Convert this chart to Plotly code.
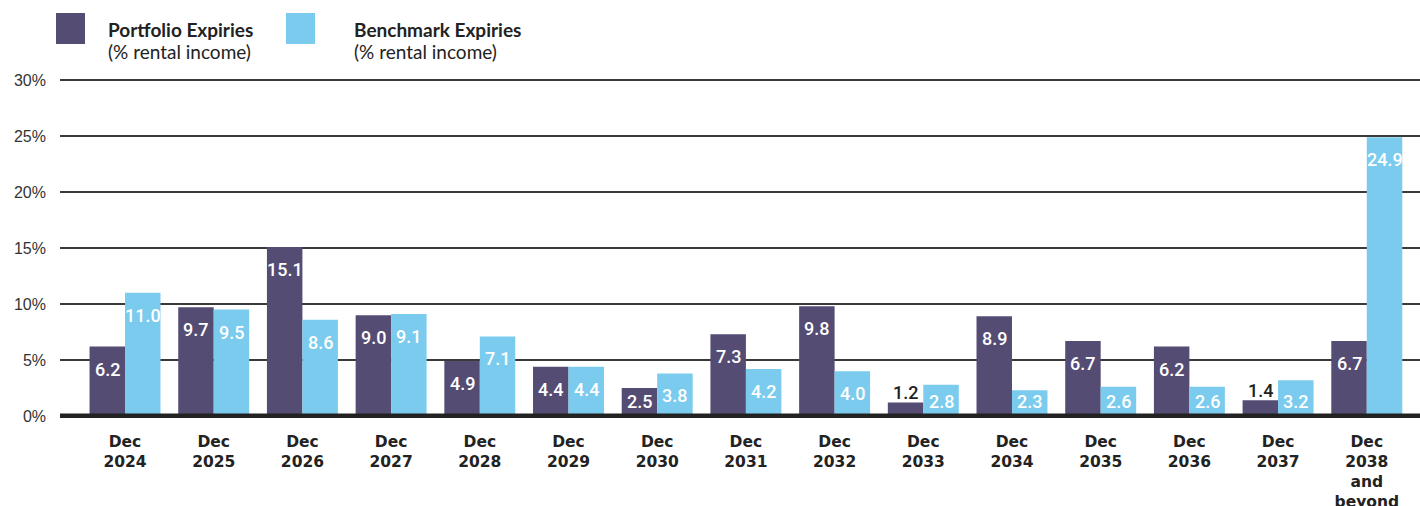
import plotly.graph_objects as go

# Lease expiry profile by year
categories = ["Dec<br>2024", "Dec<br>2025", "Dec<br>2026", "Dec<br>2027", "Dec<br>2028",
              "Dec<br>2029", "Dec<br>2030", "Dec<br>2031", "Dec<br>2032", "Dec<br>2033",
              "Dec<br>2034", "Dec<br>2035", "Dec<br>2036", "Dec<br>2037",
              "Dec<br>2038<br>and<br>beyond"]
portfolio = [6.2, 9.7, 15.1, 9.0, 4.9, 4.4, 2.5, 7.3, 9.8, 1.2, 8.9, 6.7, 6.2, 1.4, 6.7]
benchmark = [11.0, 9.5, 8.6, 9.1, 7.1, 4.4, 3.8, 4.2, 4.0, 2.8, 2.3, 2.6, 2.6, 3.2, 24.9]
y_ticks = [0, 5, 10, 15, 20, 25, 30]

PURPLE = "#554c74"
BLUE = "#7acbee"
DARK = "#222222"

W, H = 1420, 506
M_L, M_R, M_T, M_B = 60, 0, 78, 88
PLOT_W = W - M_L - M_R
PLOT_H = H - M_T - M_B
Y_RANGE = [-0.18, 30.18]
X_RANGE = [-0.733, 14.6]
PX_PER_UNIT = PLOT_H / (Y_RANGE[1] - Y_RANGE[0])
PITCH = PLOT_W / (X_RANGE[1] - X_RANGE[0])
BAR_SHIFT = PITCH * 0.8 / 4


def px_x(px):
    return (px - M_L) / PLOT_W


def px_y(py):
    return (H - M_B - py) / PLOT_H


fig = go.Figure()
fig.add_trace(go.Bar(x=categories, y=portfolio, name="Portfolio Expiries",
                     marker=dict(color=PURPLE, line=dict(width=0))))
fig.add_trace(go.Bar(x=categories, y=benchmark, name="Benchmark Expiries",
                     marker=dict(color=BLUE, line=dict(width=0))))

annotations = []
for series, side in ((portfolio, -1), (benchmark, 1)):
    for cat, v in zip(categories, series):
        bar_px = v * PX_PER_UNIT
        if bar_px < 24:
            shift, color = 10, DARK
        else:
            shift, color = -min(22.5, bar_px - 14), "white"
        annotations.append(dict(
            x=cat, y=v, xref="x", yref="y", text=f"{v:.1f}", showarrow=False,
            xanchor="center", yanchor="middle", xshift=side * BAR_SHIFT, yshift=shift,
            font=dict(family="Roboto", size=18, color=color, weight=500),
        ))

# Legend drawn as swatches with two-line captions
legend_items = [(56, PURPLE, 106, "Portfolio Expiries"), (286, BLUE, 352, "Benchmark Expiries")]
shapes = []
for sx, col, tx, title in legend_items:
    shapes.append(dict(type="rect", xref="paper", yref="paper",
                       x0=px_x(sx), x1=px_x(sx + 29), y0=px_y(44), y1=px_y(13),
                       fillcolor=col, line=dict(width=0), layer="above"))
    annotations.append(dict(x=px_x(tx), y=px_y(29), xref="paper", yref="paper",
                            text=f"<b>{title}</b>", showarrow=False,
                            xanchor="left", yanchor="middle",
                            font=dict(family="Lato", size=19, color=DARK)))
    annotations.append(dict(x=px_x(tx), y=px_y(51), xref="paper", yref="paper",
                            text="(% rental income)", showarrow=False,
                            xanchor="left", yanchor="middle",
                            font=dict(family="Lato", size=19, color=DARK)))

# Heavy baseline at zero
shapes.append(dict(type="line", xref="paper", yref="y", x0=0, x1=1, y0=0, y1=0,
                   line=dict(color=DARK, width=5), layer="above"))

fig.update_layout(
    width=W, height=H,
    margin=dict(l=M_L, r=M_R, t=M_T, b=M_B, pad=0, autoexpand=False),
    paper_bgcolor="white", plot_bgcolor="white",
    barmode="group", bargap=0.2, bargroupgap=0,
    showlegend=False,
    annotations=annotations, shapes=shapes,
    xaxis=dict(type="category", range=X_RANGE, showgrid=False, zeroline=False,
               showline=False, ticks="", ticklabelstandoff=12, automargin=False,
               tickfont=dict(family="DejaVu Sans", size=15.5, color=DARK, weight="bold")),
    yaxis=dict(range=Y_RANGE, tickvals=y_ticks, ticktext=[f"{t}%" for t in y_ticks],
               showgrid=True, gridcolor="#3a3a3a", gridwidth=1.5, zeroline=False,
               showline=False, ticks="", ticklabelstandoff=13, automargin=False,
               tickfont=dict(family="Liberation Sans", size=16, color="#333333")),
)

fig.write_html("out.html")
